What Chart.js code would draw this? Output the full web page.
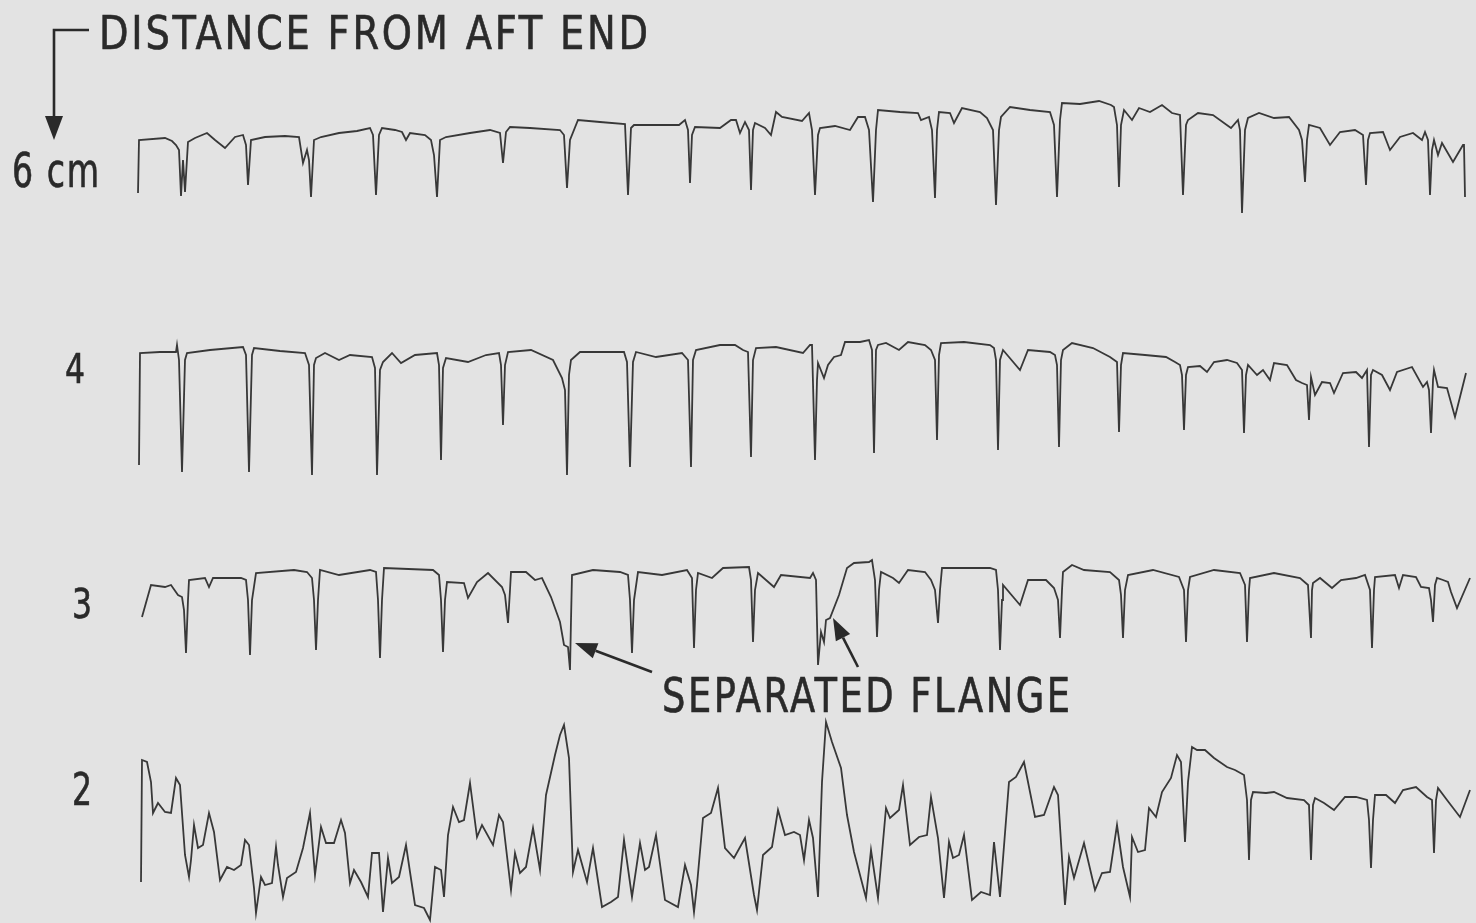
<!DOCTYPE html>
<html>
<head>
<meta charset="utf-8">
<script src="https://cdn.jsdelivr.net/npm/chart.js@4.4.1/dist/chart.umd.min.js"></script>
<style>
  html, body { margin: 0; padding: 0; background: #e3e3e3; }
  canvas { display: block; }
</style>
</head>
<body>
<canvas id="strip" width="1476" height="923"></canvas>
<script>
// Strip-chart recordings along the tube, one trace per distance from the aft end.
// Each point is [scan position, pen deflection]; deflection grows downward on the record.

const trace6cm = [[138,93],[139,40],[165,38],[172,41],[176,45],[179,50],[181,96],[183,60],[185,92],[188,42],[195,38],[207,33],[215,40],[225,48],[235,37],[243,35],[246,45],[248,85],[251,40],[265,37],[285,36],[299,37],[303,63],[307,50],[309,60],[311,97],[314,40],[321,37],[339,33],[357,31],[370,28],[373,35],[376,95],[379,35],[382,28],[395,30],[402,32],[406,40],[410,33],[425,35],[431,40],[434,55],[437,97],[440,40],[446,37],[470,33],[490,30],[500,33],[503,63],[506,32],[510,27],[530,28],[560,30],[564,35],[567,88],[570,40],[578,20],[600,22],[625,24],[628,95],[631,28],[634,25],[660,25],[679,25],[685,20],[688,30],[690,83],[692,35],[695,27],[720,28],[731,20],[736,20],[740,33],[745,22],[749,30],[751,90],[753,30],[755,23],[765,28],[771,35],[776,12],[782,17],[802,21],[809,13],[812,30],[815,95],[818,35],[820,28],[835,26],[850,30],[858,17],[865,17],[869,30],[873,102],[876,30],[878,10],[900,12],[918,13],[921,20],[929,17],[932,30],[935,98],[937,30],[939,12],[950,13],[954,23],[962,8],[980,12],[987,18],[993,30],[996,105],[999,30],[1001,17],[1010,7],[1030,10],[1050,12],[1054,25],[1057,97],[1060,20],[1062,3],[1080,4],[1099,1],[1111,5],[1114,7],[1117,25],[1119,87],[1121,25],[1124,10],[1132,20],[1139,8],[1150,12],[1162,5],[1172,13],[1180,15],[1183,95],[1186,25],[1188,20],[1198,13],[1213,15],[1231,28],[1238,20],[1240,30],[1242,113],[1245,30],[1248,18],[1259,13],[1274,18],[1289,17],[1299,30],[1302,40],[1305,82],[1307,40],[1309,25],[1320,28],[1330,45],[1340,32],[1355,30],[1363,35],[1366,85],[1368,40],[1370,33],[1383,32],[1390,50],[1400,37],[1413,33],[1422,40],[1425,32],[1428,40],[1430,95],[1432,50],[1434,40],[1438,55],[1442,43],[1453,62],[1463,45],[1464,45],[1465,97]];

const trace4cm = [[139,165],[140,53],[160,52],[176,52],[177,45],[179,60],[182,172],[185,60],[187,53],[210,50],[243,47],[246,55],[249,172],[252,55],[254,48],[280,51],[305,53],[309,65],[312,175],[314,65],[316,58],[325,53],[339,60],[350,55],[372,57],[375,68],[377,175],[380,70],[383,62],[392,53],[401,63],[415,55],[437,53],[439,65],[441,160],[443,68],[446,58],[468,62],[486,55],[499,53],[501,65],[503,125],[505,65],[508,52],[531,50],[553,60],[562,78],[565,90],[567,175],[569,75],[571,60],[580,52],[624,52],[627,62],[630,167],[633,62],[636,52],[656,57],[682,53],[688,60],[691,167],[693,60],[696,50],[720,45],[735,45],[743,50],[748,52],[751,157],[753,60],[756,48],[776,47],[803,53],[810,45],[812,45],[815,160],[817,80],[818,63],[824,78],[828,65],[834,57],[841,55],[845,42],[860,42],[869,40],[872,50],[874,153],[876,50],[878,45],[886,43],[899,50],[908,42],[925,45],[931,50],[935,60],[937,140],[939,55],[941,43],[964,42],[990,45],[994,48],[996,60],[998,150],[1000,60],[1003,50],[1020,70],[1028,50],[1050,52],[1055,55],[1057,65],[1059,147],[1061,60],[1063,50],[1072,43],[1093,48],[1110,57],[1117,62],[1119,132],[1121,65],[1123,53],[1145,55],[1166,57],[1175,62],[1180,65],[1182,75],[1184,130],[1186,75],[1188,67],[1200,66],[1207,72],[1214,62],[1227,60],[1237,63],[1242,70],[1244,133],[1246,75],[1248,65],[1257,75],[1263,70],[1270,80],[1274,63],[1287,65],[1296,80],[1302,83],[1307,85],[1309,120],[1311,77],[1315,95],[1322,82],[1330,83],[1334,93],[1343,73],[1356,72],[1362,78],[1367,70],[1369,147],[1371,75],[1373,70],[1382,75],[1390,90],[1397,72],[1412,67],[1423,87],[1427,82],[1429,90],[1431,133],[1433,80],[1434,70],[1438,87],[1447,88],[1455,117],[1466,73]];

const trace3cm = [[142,117],[151,85],[165,87],[171,85],[178,95],[182,97],[184,110],[186,153],[188,100],[189,80],[205,78],[209,87],[213,78],[241,78],[246,80],[248,100],[250,155],[252,100],[256,73],[294,70],[307,72],[312,78],[314,100],[316,150],[318,100],[320,70],[339,75],[370,70],[376,72],[378,100],[380,158],[382,100],[384,68],[433,70],[439,75],[441,100],[443,152],[445,100],[447,82],[464,83],[468,98],[477,82],[488,73],[502,87],[505,95],[508,123],[510,90],[511,72],[526,72],[535,80],[542,78],[551,97],[560,122],[564,145],[568,147],[570,170],[571,120],[572,75],[593,70],[620,72],[628,75],[630,100],[632,153],[634,100],[638,72],[662,75],[687,70],[692,78],[694,148],[696,90],[698,73],[712,78],[723,68],[749,67],[751,80],[753,142],[755,90],[758,73],[774,87],[781,75],[810,78],[813,73],[816,80],[818,165],[821,132],[824,142],[826,120],[830,118],[839,95],[847,68],[854,63],[869,62],[872,60],[875,80],[877,137],[879,90],[881,72],[893,78],[899,83],[908,70],[925,72],[931,80],[935,90],[938,123],[940,90],[942,68],[964,68],[990,68],[996,70],[998,90],[1000,150],[1002,100],[1003,85],[1020,105],[1028,80],[1046,80],[1054,88],[1058,100],[1060,138],[1062,90],[1063,72],[1072,65],[1084,70],[1110,72],[1119,80],[1121,95],[1123,138],[1125,90],[1128,75],[1153,70],[1179,77],[1184,90],[1186,142],[1188,90],[1190,77],[1214,70],[1240,73],[1245,85],[1247,142],[1249,90],[1250,78],[1274,73],[1300,78],[1308,85],[1311,138],[1312,90],[1313,83],[1320,78],[1332,88],[1341,80],[1356,78],[1365,75],[1370,90],[1372,148],[1374,90],[1375,77],[1395,75],[1399,88],[1403,75],[1416,77],[1421,87],[1429,88],[1431,100],[1433,122],[1435,85],[1437,78],[1443,80],[1448,82],[1451,92],[1457,108],[1470,78]];

const trace2cm = [[141,182],[142,60],[147,62],[151,82],[153,113],[158,103],[165,112],[171,113],[176,78],[180,85],[185,155],[189,177],[191,160],[194,125],[198,148],[203,145],[209,113],[214,132],[220,180],[227,167],[234,170],[241,165],[245,140],[249,145],[254,188],[256,213],[261,177],[265,185],[272,183],[276,147],[278,165],[283,197],[287,178],[296,172],[303,148],[310,113],[315,175],[321,127],[326,143],[334,143],[341,120],[345,133],[350,183],[354,170],[361,182],[368,197],[372,153],[379,153],[383,212],[388,158],[392,183],[399,177],[406,145],[410,172],[415,205],[424,208],[430,220],[435,167],[441,170],[444,197],[448,135],[453,107],[459,122],[464,120],[470,83],[477,137],[482,125],[493,145],[499,115],[503,122],[511,190],[515,153],[520,173],[526,167],[533,128],[540,170],[546,95],[555,55],[560,35],[564,25],[569,58],[573,172],[578,150],[587,182],[593,148],[602,207],[611,202],[618,197],[624,140],[632,197],[640,143],[645,170],[649,167],[656,135],[665,200],[678,207],[685,165],[691,185],[694,212],[697,185],[703,118],[711,113],[718,88],[725,148],[734,158],[745,138],[754,195],[757,210],[763,155],[772,147],[778,110],[785,135],[794,132],[800,135],[804,160],[809,120],[813,138],[818,197],[822,82],[826,22],[832,42],[841,68],[847,115],[854,152],[860,175],[866,198],[871,150],[878,198],[886,108],[890,118],[899,110],[903,85],[910,145],[919,137],[927,135],[931,97],[938,138],[944,198],[949,142],[953,158],[959,155],[964,135],[972,200],[981,192],[990,195],[994,142],[1000,197],[1009,82],[1016,77],[1024,62],[1035,117],[1044,115],[1054,87],[1058,95],[1065,205],[1069,157],[1074,178],[1084,143],[1095,190],[1102,173],[1110,172],[1117,125],[1123,167],[1130,197],[1132,137],[1138,152],[1145,150],[1149,108],[1156,117],[1162,92],[1171,78],[1177,55],[1181,62],[1185,142],[1188,82],[1192,47],[1197,50],[1205,50],[1214,58],[1227,67],[1235,70],[1244,75],[1247,100],[1249,160],[1251,100],[1253,92],[1266,93],[1274,92],[1287,98],[1304,100],[1309,105],[1311,160],[1313,105],[1315,98],[1324,103],[1334,110],[1345,97],[1356,97],[1367,100],[1369,120],[1371,168],[1373,120],[1375,95],[1386,95],[1395,103],[1403,90],[1416,87],[1427,97],[1432,100],[1434,153],[1436,100],[1438,88],[1447,100],[1460,117],[1470,90]];

const rowLabels = ['6 cm', '4', '3', '2'];
const headerText = 'DISTANCE FROM AFT END';
const flangeText = 'SEPARATED FLANGE';

const INK = '#2a2a2a';
const PEN = '#383838';
const PAPER = '#e3e3e3';
const FONT = "'DejaVu Sans Condensed', 'Liberation Sans Narrow', 'Open Sans', sans-serif";

const toXY = pts => pts.map(([x, y]) => ({ x, y }));

function penTrace(pts, axis) {
  return {
    data: toXY(pts),
    yAxisID: axis,
    showLine: true,
    borderColor: PEN,
    borderWidth: 1.8,
    pointRadius: 0,
    tension: 0,
    fill: false
  };
}

// Each trace gets its own hidden deflection axis, offset down the page.
function rowAxis(offset) {
  return { type: 'linear', display: false, reverse: true, min: -offset, max: 923 - offset };
}

// Draws text with a given cap height, squeezed to a given width.
function fitText(ctx, text, x, baseline, cap, width, spacing) {
  const size = cap / 0.72;
  ctx.font = `${size}px ${FONT}`;
  const hasSpacing = 'letterSpacing' in ctx;
  if (hasSpacing) ctx.letterSpacing = spacing + 'px';
  const w = ctx.measureText(text).width - (hasSpacing ? spacing : 0);
  ctx.save();
  ctx.translate(x, baseline);
  ctx.scale(width / w, 1);
  ctx.textBaseline = 'alphabetic';
  ctx.textAlign = 'left';
  ctx.lineWidth = 0.6;
  ctx.strokeStyle = INK;
  ctx.fillText(text, 0, 0);
  ctx.strokeText(text, 0, 0);
  ctx.restore();
  if (hasSpacing) ctx.letterSpacing = '0px';
}

function arrow(ctx, x0, y0, x1, y1, len, half) {
  const a = Math.atan2(y1 - y0, x1 - x0);
  const bx = x1 - len * Math.cos(a), by = y1 - len * Math.sin(a);
  ctx.beginPath();
  ctx.moveTo(x0, y0);
  ctx.lineTo(bx, by);
  ctx.stroke();
  ctx.beginPath();
  ctx.moveTo(x1, y1);
  ctx.lineTo(bx + half * Math.sin(a), by - half * Math.cos(a));
  ctx.lineTo(bx - half * Math.sin(a), by + half * Math.cos(a));
  ctx.closePath();
  ctx.fill();
}

const paper = {
  id: 'paper',
  beforeDraw(chart) {
    const { ctx, width, height } = chart;
    ctx.save();
    ctx.fillStyle = PAPER;
    ctx.fillRect(0, 0, width, height);
    ctx.restore();
  }
};

const annotate = {
  id: 'annotate',
  afterDatasetsDraw(chart, args, opts) {
    const ctx = chart.ctx;
    const sx = chart.scales.x;
    ctx.save();
    ctx.fillStyle = INK;
    ctx.strokeStyle = INK;
    ctx.lineCap = 'butt';

    // header with the bent arrow pointing at the first row
    const h = opts.header;
    fitText(ctx, headerText, h.x, h.baseline, h.cap, h.width, 3);
    ctx.lineWidth = 2.6;
    ctx.beginPath();
    ctx.moveTo(h.bracketRight, h.bracketY);
    ctx.lineTo(h.bracketX, h.bracketY);
    ctx.lineTo(h.bracketX, h.arrowTip - 20);
    ctx.stroke();
    ctx.beginPath();
    ctx.moveTo(h.bracketX - 9, h.arrowTip - 24);
    ctx.lineTo(h.bracketX + 9, h.arrowTip - 24);
    ctx.lineTo(h.bracketX, h.arrowTip);
    ctx.closePath();
    ctx.fill();

    // row labels, anchored to each trace's axis
    opts.rows.forEach((r, i) => {
      const y = chart.scales[r.axis].getPixelForValue(r.value);
      fitText(ctx, rowLabels[i], r.x, y, r.cap, r.width, 2);
    });

    // separated flange callout on the 3 cm trace
    const f = opts.flange;
    const ys = chart.scales[f.axis];
    fitText(ctx, flangeText, sx.getPixelForValue(f.textX), ys.getPixelForValue(f.textBase), f.cap, f.width, 3);
    ctx.lineWidth = 2.6;
    f.arrows.forEach(a => {
      arrow(ctx, sx.getPixelForValue(a.from[0]), ys.getPixelForValue(a.from[1]),
                 sx.getPixelForValue(a.to[0]), ys.getPixelForValue(a.to[1]), 22, 8);
    });
    ctx.restore();
  }
};

new Chart(document.getElementById('strip'), {
  type: 'scatter',
  data: {
    datasets: [
      penTrace(trace6cm, 'y6'),
      penTrace(trace4cm, 'y4'),
      penTrace(trace3cm, 'y3'),
      penTrace(trace2cm, 'y2')
    ]
  },
  options: {
    responsive: false,
    animation: false,
    devicePixelRatio: 1,
    layout: { padding: 0 },
    scales: {
      x: { type: 'linear', display: false, min: 0, max: 1476 },
      y6: rowAxis(100),
      y4: rowAxis(300),
      y3: rowAxis(500),
      y2: rowAxis(700)
    },
    plugins: {
      legend: { display: false },
      tooltip: { enabled: false },
      annotate: {
        header: { x: 99, baseline: 49, cap: 33, width: 549, bracketX: 54, bracketY: 30, bracketRight: 89, arrowTip: 140 },
        rows: [
          { axis: 'y6', value: 87, x: 12, cap: 34, width: 87 },
          { axis: 'y4', value: 83, x: 65, cap: 30, width: 20 },
          { axis: 'y3', value: 118, x: 72, cap: 30, width: 20 },
          { axis: 'y2', value: 105, x: 72, cap: 32, width: 20 }
        ],
        flange: {
          axis: 'y3', textX: 662, textBase: 212, cap: 35, width: 408,
          arrows: [
            { from: [652, 172], to: [575, 143] },
            { from: [858, 167], to: [833, 118] }
          ]
        }
      }
    }
  },
  plugins: [paper, annotate]
});
</script>
</body>
</html>
